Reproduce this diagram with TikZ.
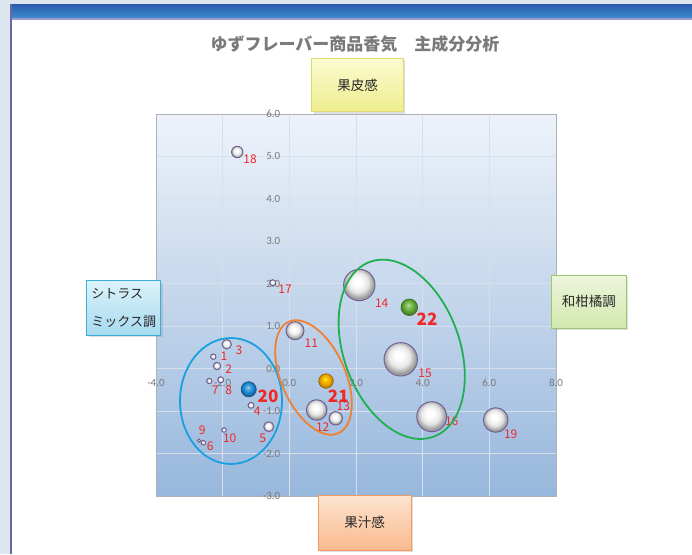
\documentclass[tikz,border=0pt]{standalone}
\usepackage{fontspec}
\setmainfont{Noto Sans CJK JP}
\newfontfamily\axisfont{Carlito}
\usetikzlibrary{shadows}
\definecolor{outerbg}{HTML}{DDE6EF}
\definecolor{winedge}{HTML}{6868A8}
\definecolor{bartop}{HTML}{2A5CAE}
\definecolor{barbot}{HTML}{3C8CCA}
\definecolor{barline}{HTML}{9A9AD0}
\definecolor{plottop}{HTML}{EEF3FA}
\definecolor{plotbot}{HTML}{97B7DC}
\definecolor{gridc}{HTML}{D6DFEB}
\definecolor{axisc}{HTML}{7A7A7A}
\definecolor{titlec}{HTML}{7A7A7A}
\definecolor{labred}{HTML}{F02828}
\definecolor{bubrim}{HTML}{6C5C94}
\definecolor{ellblue}{HTML}{1AA0E0}
\definecolor{ellorange}{HTML}{F08030}
\definecolor{ellgreen}{HTML}{20B050}
\definecolor{ytop}{HTML}{FBFBD2}
\definecolor{ybot}{HTML}{EEEE8E}
\definecolor{yedge}{HTML}{E0D870}
\definecolor{gtop}{HTML}{EEF6DC}
\definecolor{gbot}{HTML}{D2E7AE}
\definecolor{gedge}{HTML}{9CC870}
\definecolor{ctop}{HTML}{DCF2FA}
\definecolor{cbot}{HTML}{A6DAF0}
\definecolor{cedge}{HTML}{38B0D8}
\definecolor{otop}{HTML}{FDE4D0}
\definecolor{obot}{HTML}{F9BA8E}
\definecolor{oedge}{HTML}{F49A60}
\definecolor{boxtext}{HTML}{282828}
\definecolor{b20}{HTML}{1E8AD6}
\definecolor{b21}{HTML}{F2A800}
\definecolor{b22}{HTML}{64AE36}
\pgfdeclareradialshading{bubw}{\pgfqpoint{-3bp}{6bp}}{color(0bp)=(white); color(6bp)=(white); color(16bp)=(black!10); color(24bp)=(black!38); color(50bp)=(black!38)}
\pgfdeclareradialshading{ballblue}{\pgfqpoint{-3bp}{7bp}}{color(0bp)=(b20!35!white); color(5bp)=(b20!70!white); color(15bp)=(b20); color(25bp)=(b20!70!black); color(50bp)=(b20!70!black)}
\pgfdeclareradialshading{ballgold}{\pgfqpoint{-3bp}{7bp}}{color(0bp)=(yellow!60!white); color(5bp)=(b21!60!yellow); color(15bp)=(b21); color(25bp)=(b21!75!black); color(50bp)=(b21!75!black)}
\pgfdeclareradialshading{ballgreen}{\pgfqpoint{-3bp}{7bp}}{color(0bp)=(b22!35!white); color(5bp)=(b22!70!white); color(15bp)=(b22); color(25bp)=(b22!70!black); color(50bp)=(b22!70!black)}
\newcommand{\mybubble}[3]{\path[draw=bubrim, line width=0.9pt, shade, shading=bubw] (#1,#2) circle[radius=#3pt];}
\newcommand{\mycball}[5]{\path[draw=#4!60!black, line width=0.6pt, shade, shading=#5] (#1,#2) circle[radius=#3pt];}
\tikzset{
  lab/.style={text=labred, font=\fontsize{12}{12}\selectfont, inner sep=0pt},
  biglab/.style={text=labred, font=\fontsize{17}{17}\selectfont\bfseries, inner sep=0pt},
  axlab/.style={text=axisc, font=\axisfont\fontsize{11}{11}\selectfont, inner sep=0pt},
  gridline/.style={draw=gridc, line width=0.8pt},
  circ/.style={line width=1.8pt},
  catbox/.style={draw, line width=0.9pt, text=boxtext, font=\fontsize{13.5}{13.5}\selectfont,
    drop shadow={opacity=0.25, shadow xshift=2pt, shadow yshift=-2pt}},
}
\begin{document}
\begin{tikzpicture}[x=1pt, y=-1pt]
\useasboundingbox (0,0) rectangle (692,554);
% window frame
\fill[outerbg] (0,0) rectangle (692,554);
\fill[white] (11,4) rectangle (692,554);
\shade[top color=bartop, bottom color=barbot] (11,4) rectangle (692,18);
\fill[bartop] (11,4) rectangle (692,6);
\fill[barline] (11,18) rectangle (692,19.6);
\draw[winedge, line width=1.1pt] (11,4) -- (11,554);
% plot area
\shade[top color=plottop, bottom color=plotbot] (156,114) rectangle (556,496);
\foreach \i in {0,...,6} {\draw[gridline] (156+66.667*\i,114) -- (156+66.667*\i,496);}
\foreach \j in {0,...,9} {\draw[gridline] (156,114+42.444*\j) -- (556,114+42.444*\j);}
\draw[draw=gridc!80!black, line width=0.5pt] (156,114) rectangle (556,496);
% axis labels
\foreach \v [count=\j from 0] in {6.0,5.0,4.0,3.0,2.0,1.0,0.0,-1.0,-2.0,-3.0}
  {\node[axlab, anchor=east] (ya\j) at (280.5,114+42.444*\j) {\v};}
\foreach \v [count=\i from 0] in {-4.0,-2.0,0.0,2.0,4.0,6.0,8.0}
  {\node[axlab] (xa\i) at (156+66.667*\i,383) {\v};}
% bubbles
\mybubble{237.3}{152}{5.7}
\mybubble{272.7}{282.7}{3}
\mybubble{359.3}{285}{15.7}
\mybubble{400.7}{359.3}{16.7}
\mybubble{431.7}{416.7}{15}
\mybubble{495.7}{420}{12.3}
\mybubble{295}{330.7}{9}
\mybubble{316.7}{410}{10.3}
\mybubble{335.7}{418.3}{6.7}
\mybubble{226.7}{344.3}{4.7}
\mybubble{213.3}{356.7}{2.7}
\mybubble{217}{366}{3.7}
\mybubble{209.3}{381}{2.7}
\mybubble{220.7}{379.7}{3}
\mybubble{251}{405.3}{3}
\mybubble{268.7}{426.7}{5}
\mybubble{224}{430}{2.3}
\mybubble{199}{440.7}{1.6}
\mybubble{203.3}{442.7}{2.3}
\mycball{248.7}{389.3}{7.6}{b20}{ballblue}
\mycball{326}{381}{7.3}{b21}{ballgold}
\mycball{409.3}{307.3}{8.3}{b22}{ballgreen}
% data labels
\node[lab] (l1) at (224,356) {1};
\node[lab] (l2) at (228.7,369) {2};
\node[lab] (l3) at (239,350) {3};
\node[lab] (l4) at (257.3,411) {4};
\node[lab] (l5) at (262.7,438.7) {5};
\node[lab] (l6) at (210.3,446.7) {6};
\node[lab] (l7) at (215.3,390) {7};
\node[lab] (l8) at (228.7,390.7) {8};
\node[lab] (l9) at (202.3,430.7) {9};
\node[lab] (l10) at (229.7,438.7) {10};
\node[lab] (l11) at (311.3,343.3) {11};
\node[lab] (l12) at (322.7,426.7) {12};
\node[lab] (l13) at (343.3,406.7) {13};
\node[lab] (l14) at (381.7,303.3) {14};
\node[lab] (l15) at (425,373.3) {15};
\node[lab] (l16) at (451.7,421) {16};
\node[lab] (l17) at (285,289) {17};
\node[lab] (l18) at (250,159.3) {18};
\node[lab] (l19) at (510.7,434.3) {19};
\node[biglab] (l20) at (268,396) {20};
\node[biglab] (l21) at (338.3,396.7) {21};
\node[biglab] (l22) at (427,319.3) {22};
% group ellipses
\draw[circ, ellblue] (231,401) ellipse [x radius=51pt, y radius=63pt];
\draw[circ, ellorange, shift={(313.5,377.5)}, rotate=-66] (0,0) ellipse [x radius=61pt, y radius=32pt];
\draw[circ, ellgreen, shift={(401.7,349.3)}, rotate=-70] (0,0) ellipse [x radius=93pt, y radius=58pt];
% category boxes
\node[catbox, draw=yedge, top color=ytop, bottom color=ybot, minimum width=91.6pt, minimum height=53.4pt] (peel) at (357.5,85) {果皮感};
\node[catbox, draw=gedge, top color=gtop, bottom color=gbot, minimum width=74.3pt, minimum height=53.3pt] (wakan) at (588.8,301.7) {和柑橘調};
\node[catbox, draw=cedge, top color=ctop, bottom color=cbot, minimum width=74pt, minimum height=54.3pt, align=left, font=\fontsize{13}{28}\selectfont] (citrus) at (123.7,307.8) {シトラス\\ミックス調};
\node[catbox, draw=oedge, top color=otop, bottom color=obot, minimum width=92.7pt, minimum height=55pt] (juice) at (364.7,522.5) {果汁感};
% title
\node[text=titlec, font=\fontsize{17}{17}\selectfont\bfseries] (title) at (355,44) {ゆずフレーバー商品香気\hspace{1em}主成分分析};
\end{tikzpicture}
\end{document}
